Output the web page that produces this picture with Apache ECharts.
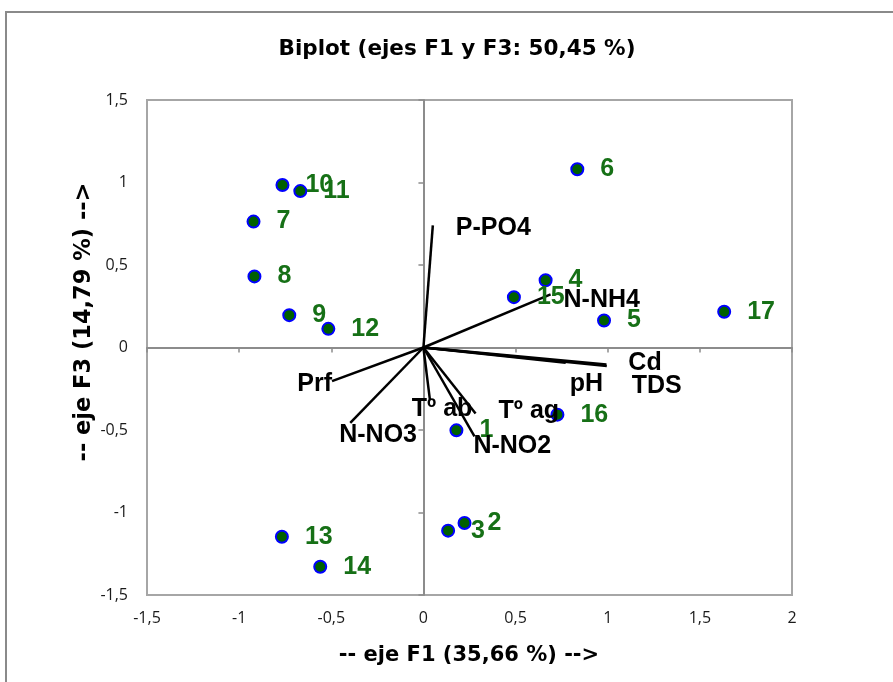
<!DOCTYPE html>
<html><head><meta charset="utf-8">
<script src="https://cdn.jsdelivr.net/npm/echarts@6/dist/echarts.min.js"></script>
<style>html,body{margin:0;padding:0;background:#fff}#c{width:893px;height:682px}</style>
</head><body><div id="c"></div>
<script>
// Observations (sites)
const obsNames = ['1','2','3','4','5','6','7','8','9','10','11','12','13','14','15','16','17'];
const obsF1 = [0.179, 0.223, 0.134, 0.663, 0.980, 0.835, -0.922, -0.917, -0.728, -0.765, -0.668, -0.516, -0.768, -0.560, 0.491, 0.727, 1.632];
const obsF3 = [-0.502, -1.064, -1.110, 0.408, 0.164, 1.080, 0.763, 0.431, 0.196, 0.985, 0.948, 0.113, -1.147, -1.329, 0.305, -0.407, 0.217];

// Variables (loadings)
const varNames = ['P-PO4','N-NH4','Cd','TDS','pH','Tº ab','Tº ag','N-NO2','Prf','N-NO3'];
const varF1 = [0.051, 0.690, 0.993, 0.995, 0.772, 0.035, 0.283, 0.277, -0.496, -0.397];
const varF3 = [0.740, 0.322, -0.103, -0.112, -0.093, -0.316, -0.400, -0.538, -0.204, -0.457];

// Axis ticks
const axisMinX = -1.5, axisMaxX = 2, axisMinY = -1.5, axisMaxY = 1.5, tickStep = 0.5;

// Label placement (pixel offsets from vector tip) – layout only
const varLabelPos = {
  'P-PO4': [23, 3, 'left'], 'N-NH4': [13, 6, 'left'], 'Cd': [22, -1, 'left'],
  'TDS': [25, 20, 'left'], 'pH': [4, 21, 'left'], 'Tº ab': [-18, 10, 'left'],
  'Tº ag': [23, -2, 'left'], 'N-NO2': [-1, 10, 'left'], 'Prf': [0, 3, 'right'],
  'N-NO3': [-11, 12, 'left']
};

const fmt = v => String(v).replace('.', ',');
const tickFamily = '"Open Sans", "Liberation Sans", sans-serif';
const boldFont = '"Liberation Sans", Arial, sans-serif';
const wideBold = '"DejaVu Sans", sans-serif';

const chart = echarts.init(document.getElementById('c'), null, {renderer: 'canvas'});
chart.setOption({
  animation: false,
  backgroundColor: '#fff',
  grid: {left: 147, right: 101, top: 100, bottom: 87, show: true, borderColor: '#a6a6a6', borderWidth: 2, backgroundColor: '#fff'},
  xAxis: [
    {type: 'value', min: axisMinX, max: axisMaxX, interval: tickStep, position: 'bottom',
     axisLine: {show: true, onZero: true, lineStyle: {color: '#8c8c8c', width: 2}},
     axisTick: {show: true, length: 5, lineStyle: {color: '#8c8c8c', width: 1.5}},
     axisLabel: {show: false}, splitLine: {show: false}},
    {type: 'value', min: axisMinX, max: axisMaxX, interval: tickStep, position: 'bottom',
     axisLine: {show: false, onZero: false}, axisTick: {show: false},
     axisLabel: {show: true, margin: 15, formatter: fmt, showMinLabel: true, showMaxLabel: true,
                 fontFamily: tickFamily, fontSize: 16, color: '#1a1a1a'},
     splitLine: {show: false}}
  ],
  yAxis: [
    {type: 'value', min: axisMinY, max: axisMaxY, interval: tickStep, position: 'left',
     axisLine: {show: true, onZero: true, lineStyle: {color: '#8c8c8c', width: 2}},
     axisTick: {show: true, length: 5, lineStyle: {color: '#8c8c8c', width: 1.5}},
     axisLabel: {show: false}, splitLine: {show: false}},
    {type: 'value', min: axisMinY, max: axisMaxY, interval: tickStep, position: 'left',
     axisLine: {show: false, onZero: false}, axisTick: {show: false},
     axisLabel: {show: true, margin: 19, formatter: fmt, showMinLabel: true, showMaxLabel: true,
                 fontFamily: tickFamily, fontSize: 16, color: '#1a1a1a'},
     splitLine: {show: false}}
  ],
  graphic: [
    {type: 'rect', shape: {x: 6, y: 12, width: 1000, height: 1000}, style: {fill: 'none', stroke: '#8a8a8a', lineWidth: 2}, silent: true, z: -10},
    {type: 'text', x: 457, y: 49, style: {text: 'Biplot (ejes F1 y F3: 50,45 %)', fontFamily: wideBold, fontWeight: 'bold', fontSize: 21.5, fill: '#000', align: 'center', verticalAlign: 'middle'}},
    {type: 'text', x: 469, y: 656, style: {text: '-- eje F1 (35,66 %) -->', fontFamily: wideBold, fontWeight: 'bold', fontSize: 21, fill: '#000', align: 'center', verticalAlign: 'middle'}},
    {type: 'text', x: 84, y: 322, rotation: Math.PI / 2, style: {text: '-- eje F3 (14,79 %) -->', fontFamily: wideBold, fontWeight: 'bold', fontSize: 22.5, fill: '#000', align: 'center', verticalAlign: 'middle'}}
  ],
  series: [
    {type: 'lines', coordinateSystem: 'cartesian2d', xAxisIndex: 0, yAxisIndex: 0, silent: true, z: 2,
     lineStyle: {color: '#000', width: 2.5, opacity: 1},
     data: varNames.map((n, i) => ({coords: [[0, 0], [varF1[i], varF3[i]]]}))},
    {type: 'scatter', xAxisIndex: 0, yAxisIndex: 0, z: 3, symbol: 'circle', symbolSize: 12,
     itemStyle: {color: '#006000', borderColor: '#0000ff', borderWidth: 2, opacity: 1},
     label: {show: true, position: 'right', distance: 16, formatter: '{b}', color: '#167016', fontFamily: boldFont, fontWeight: 'bold', fontSize: 25},
     data: obsNames.map((n, i) => ({name: n, value: [obsF1[i], obsF3[i]]}))},
    {type: 'scatter', xAxisIndex: 0, yAxisIndex: 0, z: 4, symbol: 'circle', symbolSize: 0.1, silent: true,
     itemStyle: {color: '#000000', opacity: 1},
     label: {show: true, formatter: '{b}', color: '#000000', opacity: 1, fontFamily: boldFont, fontWeight: 'bold', fontSize: 25, verticalAlign: 'middle'},
     data: varNames.map((n, i) => ({name: n, value: [varF1[i], varF3[i]],
       label: {position: [varLabelPos[n][0], varLabelPos[n][1]], align: varLabelPos[n][2], color: '#000000'}}))}
  ]
});
</script></body></html>
